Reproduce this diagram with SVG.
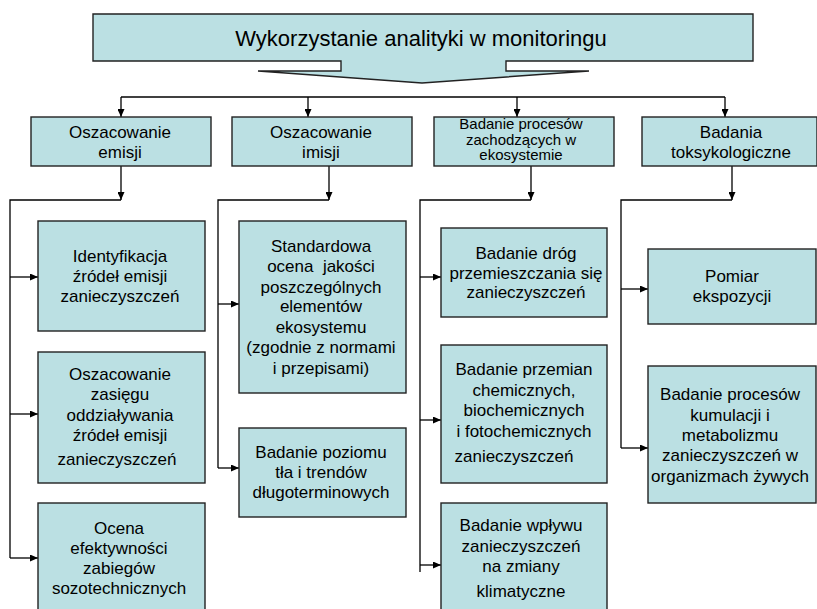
<svg xmlns="http://www.w3.org/2000/svg" width="817" height="609" viewBox="0 0 817 609">
<defs>
<marker id="ah" markerUnits="userSpaceOnUse" markerWidth="8" markerHeight="7" refX="8" refY="3.5" orient="auto">
<path d="M0,0 L8,3.5 L0,7 z" fill="#000"/>
</marker>
<style>
.box{fill:#BBE0E3;stroke:#222;stroke-width:1.4}
.t{font-family:"Liberation Sans",Arial,sans-serif;font-size:17px;fill:#000;text-anchor:middle}
.s{font-size:15px}
.title{font-size:22px}
.c line,.c polyline{stroke:#000;stroke-width:1.3;fill:none}
.c .a{marker-end:url(#ah)}
</style>
</defs>
<rect width="817" height="609" fill="#fff"/>

<g id="title">
<path class="box" d="M93,14 H753 V61 H506 V71 H589 L422,83 L258,71 H341 V61 H93 Z"/>
<text class="t title" x="421" y="46">Wykorzystanie analityki w monitoringu</text>
</g>

<g id="connectors" class="c">
<line x1="121" y1="97" x2="725" y2="97"/>
<line class="a" x1="121" y1="97" x2="121" y2="117"/>
<line class="a" x1="308" y1="97" x2="308" y2="117"/>
<line class="a" x1="517" y1="97" x2="517" y2="117"/>
<line class="a" x1="725" y1="97" x2="725" y2="117"/>

<line class="a" x1="121" y1="166" x2="121" y2="200"/>
<line class="a" x1="329" y1="166" x2="329" y2="200"/>
<line class="a" x1="531" y1="166" x2="531" y2="200"/>
<line class="a" x1="732" y1="166" x2="732" y2="200"/>

<polyline points="121,200 10,200 10,558"/>
<line class="a" x1="10" y1="277" x2="38" y2="277"/>
<line class="a" x1="10" y1="414" x2="38" y2="414"/>
<line class="a" x1="10" y1="558" x2="38" y2="558"/>

<polyline points="329,200 218,200 218,468"/>
<line class="a" x1="218" y1="304" x2="239" y2="304"/>
<line class="a" x1="218" y1="468" x2="239" y2="468"/>

<polyline points="531,200 420,200 420,572"/>
<line class="a" x1="420" y1="277" x2="441" y2="277"/>
<line class="a" x1="420" y1="420" x2="441" y2="420"/>
<line class="a" x1="420" y1="565" x2="441" y2="565"/>

<polyline points="732,200 621,200 621,448"/>
<line class="a" x1="621" y1="289" x2="648" y2="289"/>
<line class="a" x1="621" y1="448" x2="648" y2="448"/>
</g>

<g id="n-emisji">
<rect class="box" x="31" y="117" width="180" height="49"/>
<text class="t" x="120" y="138">Oszacowanie</text>
<text class="t" x="120" y="158">emisji</text>
</g>
<g id="n-imisji">
<rect class="box" x="232" y="117" width="180" height="49"/>
<text class="t" x="321" y="138">Oszacowanie</text>
<text class="t" x="321" y="158">imisji</text>
</g>
<g id="n-procesy">
<rect class="box" x="434" y="117" width="180" height="49"/>
<text class="t s" x="521" y="129">Badanie procesów</text>
<text class="t s" x="521" y="144.5">zachodzących w</text>
<text class="t s" x="521" y="160">ekosystemie</text>
</g>
<g id="n-tox">
<rect class="box" x="642" y="117" width="175" height="49"/>
<text class="t" x="731" y="138">Badania</text>
<text class="t" x="731" y="158">toksykologiczne</text>
</g>

<g id="n-ident">
<rect class="box" x="38" y="221" width="167" height="110"/>
<text class="t" x="120" y="262">Identyfikacja</text>
<text class="t" x="120" y="282">źródeł emisji</text>
<text class="t" x="120" y="302">zanieczyszczeń</text>
</g>
<g id="n-zasieg">
<rect class="box" x="38" y="352" width="167" height="131"/>
<text class="t" x="120" y="380">Oszacowanie</text>
<text class="t" x="120" y="400">zasięgu</text>
<text class="t" x="120" y="421">oddziaływania</text>
<text class="t" x="120" y="441">źródeł emisji</text>
<text class="t" x="117" y="465">zanieczyszczeń</text>
</g>
<g id="n-ocena">
<rect class="box" x="38" y="503" width="167" height="120"/>
<text class="t" x="119" y="534">Ocena</text>
<text class="t" x="119" y="554">efektywności</text>
<text class="t" x="119" y="574">zabiegów</text>
<text class="t" x="119" y="594">sozotechnicznych</text>
</g>

<g id="n-standard">
<rect class="box" x="239" y="221" width="167" height="172"/>
<text class="t" x="321" y="252">Standardowa</text>
<text class="t" x="321" y="272" xml:space="preserve">ocena  jakości</text>
<text class="t" x="321" y="293">poszczególnych</text>
<text class="t" x="321" y="312">elementów</text>
<text class="t" x="321" y="333">ekosystemu</text>
<text class="t" x="321" y="353">(zgodnie z normami</text>
<text class="t" x="321" y="374">i przepisami)</text>
</g>
<g id="n-tlo">
<rect class="box" x="239" y="428" width="167" height="89"/>
<text class="t" x="321" y="458">Badanie poziomu</text>
<text class="t" x="321" y="478">tła i trendów</text>
<text class="t" x="321" y="498">długoterminowych</text>
</g>

<g id="n-drogi">
<rect class="box" x="441" y="228" width="166" height="89"/>
<text class="t" x="526" y="259">Badanie dróg</text>
<text class="t" x="526" y="279">przemieszczania się</text>
<text class="t" x="526" y="298">zanieczyszczeń</text>
</g>
<g id="n-przemiany">
<rect class="box" x="441" y="345" width="166" height="138"/>
<text class="t" x="524" y="375">Badanie przemian</text>
<text class="t" x="524" y="396">chemicznych,</text>
<text class="t" x="524" y="416">biochemicznych</text>
<text class="t" x="524" y="437">i fotochemicznych</text>
<text class="t" x="514" y="462">zanieczyszczeń</text>
</g>
<g id="n-klimat">
<rect class="box" x="441" y="503" width="166" height="120"/>
<text class="t" x="521" y="531">Badanie wpływu</text>
<text class="t" x="521" y="552">zanieczyszczeń</text>
<text class="t" x="521" y="572">na zmiany</text>
<text class="t" x="521" y="597">klimatyczne</text>
</g>

<g id="n-pomiar">
<rect class="box" x="648" y="249" width="168" height="75"/>
<text class="t" x="732" y="282">Pomiar</text>
<text class="t" x="732" y="302">ekspozycji</text>
</g>
<g id="n-kumulacja">
<rect class="box" x="648" y="366" width="168" height="137"/>
<text class="t" x="730" y="400">Badanie procesów</text>
<text class="t" x="730" y="421">kumulacji i</text>
<text class="t" x="730" y="441">metabolizmu</text>
<text class="t" x="730" y="461">zanieczyszczeń w</text>
<text class="t" x="730" y="482">organizmach żywych</text>
</g>
</svg>
